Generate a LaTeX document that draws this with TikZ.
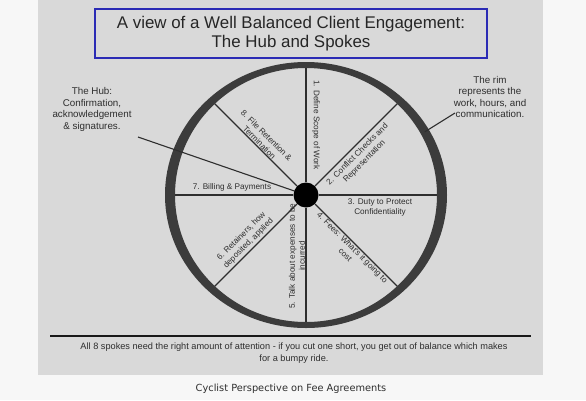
\documentclass[tikz,border=0pt]{standalone}
\usepackage{fontspec}
\setmainfont{Liberation Sans}
\newfontfamily\capfont{DejaVu Sans}
\usetikzlibrary{shapes.geometric}
\definecolor{panel}{HTML}{D9D9D9}
\definecolor{page}{HTML}{F7F7F7}
\definecolor{ink}{HTML}{2E2E2E}
\definecolor{rimc}{HTML}{3C3C3C}
\definecolor{titleblue}{HTML}{2B2BB5}
\begin{document}
\begin{tikzpicture}[x=1pt,y=1pt,
  lbl/.style={text=ink, font=\fontsize{8.2}{10}\selectfont, align=center, inner sep=0},
  note/.style={text=ink, font=\fontsize{9.8}{11.5}\selectfont, align=center, inner sep=0},
  spoke/.style={draw=ink, line width=1.1},
  ]
\useasboundingbox (0,-400) rectangle (586,0);
\fill[page] (0,-400) rectangle (586,0);
\fill[panel] (38,-375) rectangle (543,0);
\node[draw=titleblue, line width=2.2, fill=panel, minimum width=392, minimum height=49, inner sep=0, align=center, font=\fontsize{16.9}{19}\selectfont, text=black!85] (title) at (291,-33.5) {A view of a Well Balanced Client Engagement:\\The Hub and Spokes};
\node[ellipse, minimum width=272, minimum height=260, inner sep=0, outer sep=0] (rim) at (306,-195) {};
\node[circle, fill=black, minimum size=25, inner sep=0] (hub) at (306,-195) {};
\foreach \a in {0,45,...,315} \draw[spoke] (hub) -- (rim.\a);
\fill[rimc, even odd rule] (rim.center) ellipse [x radius=141, y radius=133]
  (rim.center) ellipse [x radius=131, y radius=127];
\node[lbl, rotate=-90] (l1) at (316,-125) {1. Define Scope of Work};
\node[lbl, rotate=45] (l2) at (361,-158) {2. Conflict Checks and\\Representation};
\node[lbl] (l3) at (380,-207) {3. Duty to Protect\\Confidentiality};
\node[lbl, rotate=-45] (l4) at (349,-251) {4. Fees: What's it going to\\cost};
\node[lbl, rotate=90] (l5) at (297,-256) {5. Talk about expenses to be\\incurred};
\node[lbl, rotate=45] (l6) at (245,-240) {6. Retainers, how\\deposited, applied};
\node[lbl] (l7) at (232,-187) {7. Billing \& Payments};
\node[lbl, rotate=-45] (l8) at (263,-139) {8. File Retention \&\\Termination};
\node[note] (hubtxt) at (92,-109.5) {The Hub:\\Confirmation,\\acknowledgement\\\& signatures.};
\coordinate (hubtip) at (138,-137);
\draw[spoke] (hubtip) -- (hub);
\node[note] (rimtxt) at (490,-97) {The rim\\represents the\\work, hours, and\\communication.};
\coordinate (rimtip) at (455,-113);
\draw[spoke] (rimtip) -- (rim.28);
\draw[line width=2, draw=black!90] (50,-336) -- (531,-336);
\node[text=ink, font=\fontsize{9.2}{12}\selectfont, align=center, inner sep=0] (foot) at (294,-353.5) {All 8 spokes need the right amount of attention - if you cut one short, you get out of balance which makes\\for a bumpy ride.};
\node[font=\capfont\fontsize{9.8}{12}\selectfont, text=ink, inner sep=0] (cap) at (291,-389) {Cyclist Perspective on Fee Agreements};
\end{tikzpicture}
\end{document}
